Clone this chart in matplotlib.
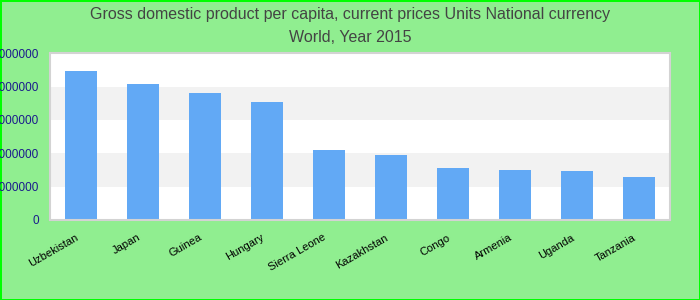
import matplotlib.pyplot as plt
import matplotlib.transforms as mtransforms
import numpy as np

plt.rcParams['font.family'] = ['Liberation Sans', 'DejaVu Sans']

countries = ['Uzbekistan', 'Japan', 'Guinea', 'Hungary', 'Sierra Leone',
             'Kazakhstan', 'Congo', 'Armenia', 'Uganda', 'Tanzania']
gdp = [4470000, 4080000, 3810000, 3540000, 2100000,
       1950000, 1560000, 1500000, 1470000, 1290000]
yticks = [0, 1000000, 2000000, 3000000, 4000000, 5000000]
title = 'Gross domestic product per capita, current prices Units National currency\nWorld, Year 2015'

fig = plt.figure(figsize=(7, 3), dpi=100, facecolor='#90EE90',
                 edgecolor='#00FF00', linewidth=2)
ax = fig.add_axes([0.0714, 0.2667, 0.8857, 0.5556])

# alternating bands
for i in range(len(yticks) - 1):
    color = '#F2F2F2' if i % 2 == 1 else 'white'
    ax.axhspan(yticks[i], yticks[i + 1], color=color, zorder=0, lw=0)

x = np.arange(len(countries))
ax.bar(x, gdp, width=0.52, color='#62A9F5', zorder=2)

ax.set_xlim(-0.5, len(countries) - 0.5)
ax.set_ylim(yticks[0], yticks[-1])
ax.set_yticks(yticks)
ax.set_yticklabels([str(v) for v in yticks], color='#1a1a8c', fontsize=8.5)
ax.set_xticks(x)
ax.set_xticklabels(countries, rotation=30, ha='right', rotation_mode='anchor',
                   fontsize=8)
ax.tick_params(axis='both', length=0)
ax.tick_params(axis='y', pad=8)
ax.tick_params(axis='x', pad=9)

# nudge x labels a bit to the left
shift = mtransforms.ScaledTranslation(-0.06, 0, fig.dpi_scale_trans)
for lbl in ax.get_xticklabels():
    lbl.set_transform(lbl.get_transform() + shift)

for s in ax.spines.values():
    s.set_color('#D3D3D3')
    s.set_linewidth(1.5)

fig.text(0.5, 0.975, title, ha='center', va='top', fontsize=11.5,
         color='#444444', linespacing=1.65)

fig.savefig('out.png', facecolor=fig.get_facecolor(),
            edgecolor=fig.get_edgecolor())
